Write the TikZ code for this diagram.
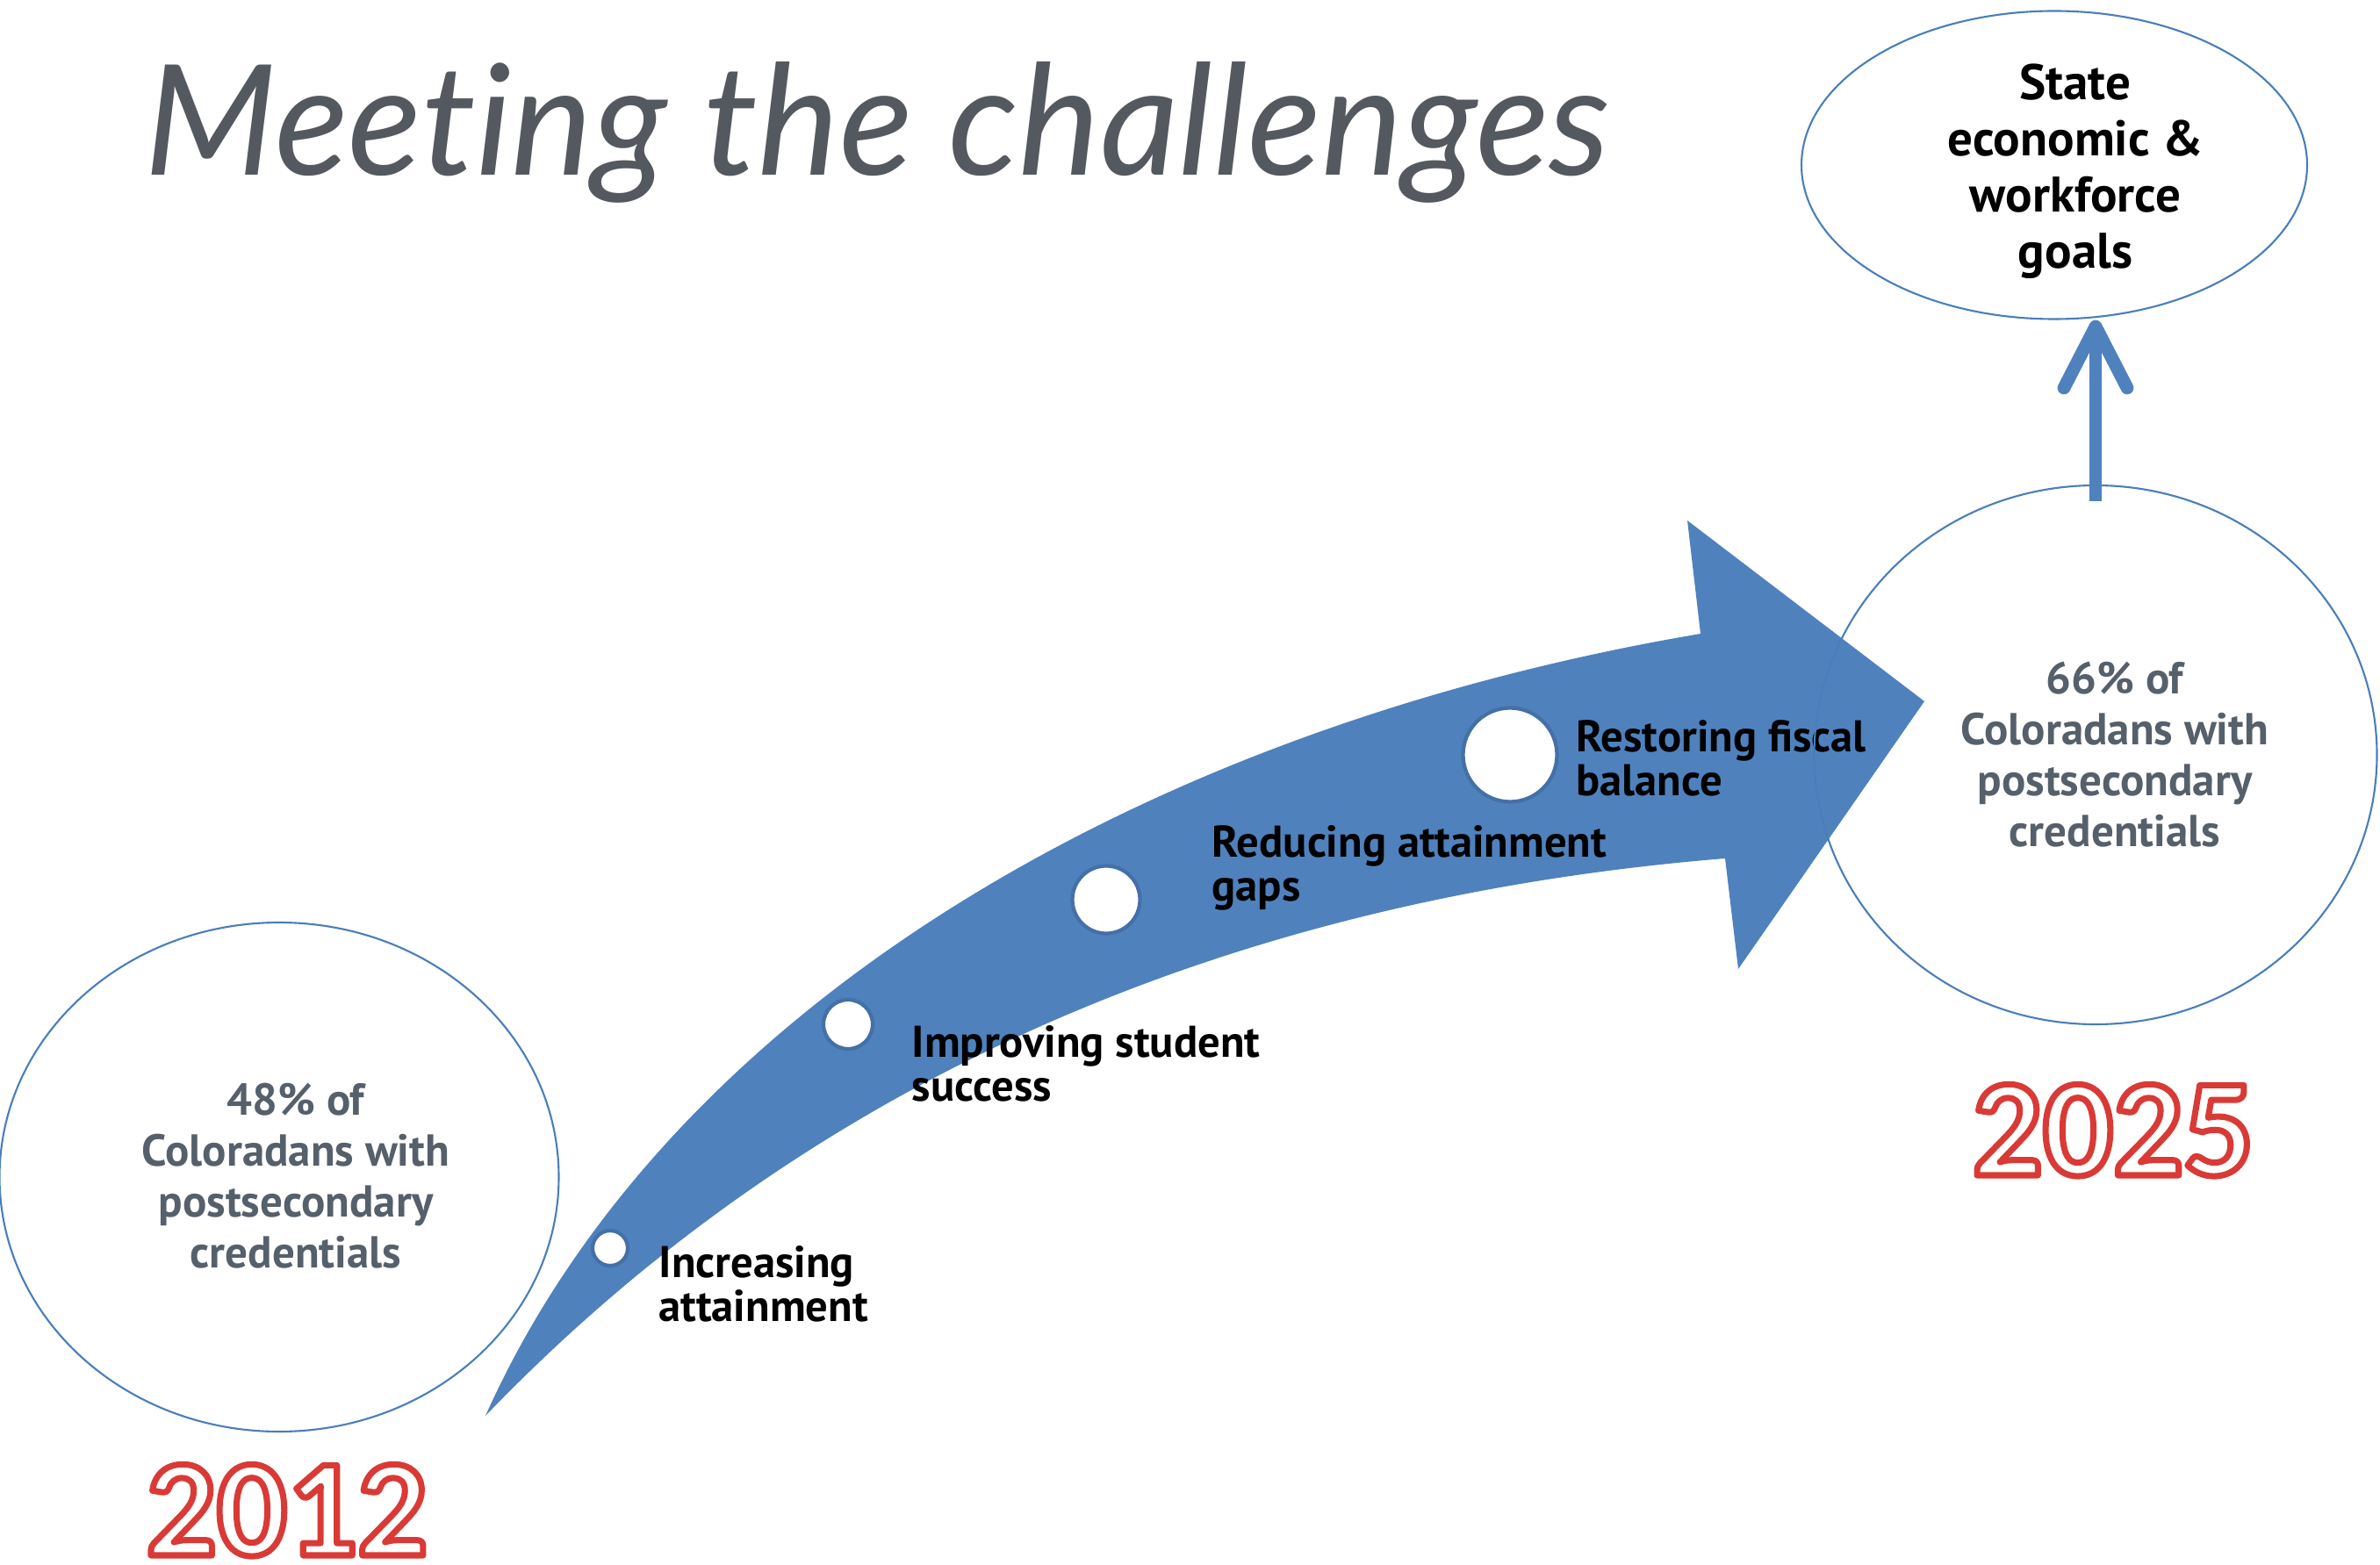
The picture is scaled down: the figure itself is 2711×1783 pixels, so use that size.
\documentclass[tikz,border=0pt]{standalone}
\usepackage{fontspec}
\setmainfont{PT Sans}
\newfontfamily\titlefont[Ligatures=NoCommon]{Lato}
\newfontfamily\yearfont{Carlito}
\usetikzlibrary{arrows.meta,shapes.geometric,calc}
\definecolor{arrowblue}{HTML}{4F81BD}
\definecolor{lineblue}{HTML}{4A7EBB}
\definecolor{titlegray}{HTML}{545960}
\definecolor{slategray}{HTML}{56606B}
\definecolor{ringblue}{HTML}{4470A6}
\newcommand\yeartext[1]{\special{pdf:code q 0.851 0.227 0.212 RG 1 1 1 rg 2 Tr 2.0 w 1 j}#1\special{pdf:code Q}}
\begin{document}
\begin{tikzpicture}[x=0.1mm,y=-0.1mm,
  ringell/.style={draw=lineblue, line width=0.6pt, ellipse, inner sep=0pt},
  elltext/.style={font=\bfseries\fontsize{14.5}{16.5}\selectfont, text=slategray, align=center, inner sep=0pt},
  goaltext/.style={font=\bfseries\fontsize{16.2}{18.2}\selectfont, text=black, align=center, inner sep=0pt},
  steplabel/.style={font=\bfseries\fontsize{14.4}{14.2}\selectfont, text=black, align=left, anchor=base west, inner sep=0pt},
  dotnode/.style={circle, fill=white, draw=ringblue, line width=1.2pt, inner sep=0pt},
  yearlabel/.style={font=\yearfont\bfseries\fontsize{45}{45}\selectfont, anchor=base, inner sep=0pt},
  conn/.style={draw=arrowblue, line width=4.2pt, -{Straight Barb[length=7mm,width=7.2mm,round]}}
]
\useasboundingbox (0,0) rectangle (2711,1783);
\fill[white] (0,0) rectangle (2711,1783);

% title
\node[anchor=base west, inner sep=0pt, text=titlegray] (title) at (164,200)
  {\resizebox{166.9mm}{!}{\titlefont\itshape Meeting the challenges}};

% big curved arrow
\fill[arrowblue] (553,1613) .. controls (760,1150) and (1300,830) .. (1937,722)
  -- (1922,593) -- (2192,799) -- (1980,1104) -- (1965,978)
  .. controls (1450,1020) and (950,1200) .. (553,1613) -- cycle;

% milestone dots
\node[dotnode, minimum size=4.0mm] (d1) at (695,1422) {};
\node[dotnode, minimum size=5.6mm] (d2) at (966,1167) {};
\node[dotnode, minimum size=7.7mm] (d3) at (1260,1025) {};
\node[dotnode, minimum size=10.7mm] (d4) at (1720,860) {};

% milestone labels (anchor = baseline of the last line)
\node[steplabel] (l1) at (750,1505) {Increasing\\attainment};
\node[steplabel] (l2) at (1038,1254) {Improving student\\success};
\node[steplabel] (l3) at (1380,1026) {Reducing attainment\\gaps};
\node[steplabel] (l4) at (1795,906) {Restoring fiscal\\balance};

% ellipses
\node[ringell, minimum width=63.7mm, minimum height=58.0mm] (e2012) at (318,1341) {};
\node[elltext] (t2012) at (337,1340) {48\% of\\Coloradans with\\postsecondary\\credentials};

\node[ringell, minimum width=64.1mm, minimum height=61.4mm] (e2025) at (2387,860) {};
\node[elltext] (t2025) at (2409,860) {66\% of\\Coloradans with\\postsecondary\\credentials};

\node[ringell, minimum width=57.6mm, minimum height=35.1mm] (goal) at (2340,188) {};
\node[goaltext] (tgoal) at (2364,195) {State\\economic \&\\workforce\\goals};

% years
\node[yearlabel] (y2012) at (327,1772) {\yeartext{2012}};
\node[yearlabel] (y2025) at (2407,1339) {\yeartext{2025}};

% connector
\draw[conn] ([yshift=-1.9mm]e2025.north) -- (e2025.north |- goal.south);
\end{tikzpicture}
\end{document}
